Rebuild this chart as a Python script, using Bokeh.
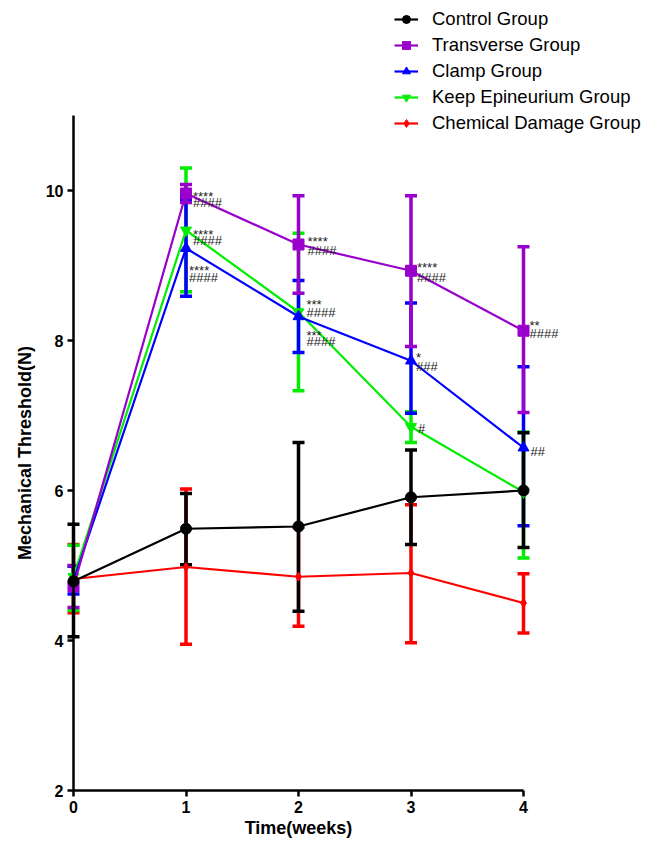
from bokeh.plotting import figure
from bokeh.models import (Range1d, LinearAxis, Whisker, TeeHead, ColumnDataSource,
                          Legend, LegendItem, FixedTicker)
from bokeh.core.properties import value
from bokeh.embed import file_html
from bokeh.resources import INLINE

# ---------------- data ----------------
weeks = [0, 1, 2, 3, 4]
x_ticks = [0, 1, 2, 3, 4]
y_ticks = [2, 4, 6, 8, 10]

group_names = ["Control Group", "Transverse Group", "Clamp Group",
               "Keep Epineurium Group", "Chemical Damage Group"]

control = [4.79, 5.49, 5.52, 5.91, 6.00]
control_lo = [4.05, 5.01, 4.39, 5.28, 5.24]
control_hi = [5.55, 5.96, 6.64, 6.54, 6.77]

transverse = [4.72, 9.96, 9.28, 8.93, 8.13]
transverse_lo = [4.44, 9.84, 8.63, 7.92, 7.04]
transverse_hi = [5.00, 10.08, 9.93, 9.93, 9.25]

clamp = [4.80, 9.23, 8.32, 7.73, 6.57]
clamp_lo = [4.62, 8.59, 7.84, 7.03, 5.53]
clamp_hi = [4.99, 9.87, 8.80, 8.50, 7.65]

keep = [4.85, 9.47, 8.38, 6.85, 5.98]
keep_lo = [4.40, 8.65, 7.33, 6.64, 5.10]
keep_hi = [5.27, 10.30, 9.43, 7.05, 6.78]

chemical = [4.82, 4.98, 4.85, 4.90, 4.50]
chemical_lo = [4.37, 3.95, 4.19, 3.97, 4.10]
chemical_hi = [5.28, 6.02, 5.51, 5.81, 4.89]

# significance marks: week, group index, stars, hashes
sig_week = [1, 1, 1, 2, 2, 2, 3, 3, 3, 4, 4]
sig_group = [1, 3, 2, 1, 2, 3, 1, 2, 3, 1, 2]
sig_stars = ["****", "****", "****", "****", "***", "***", "****", "*", "", "**", ""]
sig_hash = ["####", "####", "####", "####", "####", "####", "####", "###", "#", "####", "##"]

# ---------------- layout / style ----------------
series = [control, transverse, clamp, keep, chemical]
series_lo = [control_lo, transverse_lo, clamp_lo, keep_lo, chemical_lo]
series_hi = [control_hi, transverse_hi, clamp_hi, keep_hi, chemical_hi]
colors = ["#000000", "#9900cc", "#0000ff", "#00ee00", "#ff0000"]
markers = ["circle", "square", "triangle", "inverted_triangle", "diamond"]
msizes = [11, 11, 11, 11, 9]

# screen offsets (px) for the significance labels
sig_dx = [7, 7, 3, 9, 8, 8, 6, 5, 7, 6, 7]
sig_dy_star = [3, 4, 22, -3, -12, 23, -3, -3, 0, -5, 0]
sig_dy_hash = [9, 10, 29, 6, -4, 29, 7, 6, 2, 3, 4]

FONT = "Liberation Sans"
W, H = 653, 843
# pixel geometry of the data area inside the canvas
PX0, PX_PER_WEEK = 73, 112.5      # x=0 at 73 px
PY2, PY_PER_N = 790, 75.0         # y=2 at 790 px

p = figure(width=W, height=H, output_backend="svg", toolbar_location=None,
           x_range=Range1d(-PX0 / PX_PER_WEEK, (W - PX0) / PX_PER_WEEK),
           y_range=Range1d(2 - (H - PY2) / PY_PER_N, 2 + PY2 / PY_PER_N),
           x_axis_type=None, y_axis_type=None,
           min_border_left=0, min_border_right=0, min_border_top=0,
           min_border_bottom=0)
p.outline_line_color = None
p.background_fill_color = "white"
p.border_fill_color = "white"

xaxis = LinearAxis(ticker=FixedTicker(ticks=x_ticks), bounds=(0, 4),
                   fixed_location=2, axis_label="Time(weeks)")
yaxis = LinearAxis(ticker=FixedTicker(ticks=y_ticks), bounds=(2, 11),
                   fixed_location=0, axis_label="Mechanical Threshold(N)")
for ax in (xaxis, yaxis):
    ax.axis_line_width = 2.5
    ax.axis_line_color = "black"
    ax.major_tick_line_width = 2.5
    ax.major_tick_out = 6
    ax.major_tick_in = 0
    ax.minor_tick_line_color = None
    ax.major_label_text_font = FONT
    ax.major_label_text_font_style = "bold"
    ax.major_label_text_font_size = "16px"
    ax.major_label_text_color = "black"
    ax.axis_label_text_font = FONT
    ax.axis_label_text_font_style = "bold"
    ax.axis_label_text_color = "black"
    ax.axis_label_text_font_size = "18px"
xaxis.major_label_standoff = 4
xaxis.axis_label_standoff = 2
yaxis.major_label_standoff = 4
yaxis.axis_label_standoff = 8
p.add_layout(xaxis, "below")
p.add_layout(yaxis, "left")

# error bars (drawn below lines & markers)
order = [4, 3, 2, 1, 0]
for i in order:
    src = ColumnDataSource(dict(x=weeks, lo=series_lo[i], hi=series_hi[i]))
    c = colors[i]
    w = Whisker(source=src, base="x", lower="lo", upper="hi",
                line_color=c, line_width=3.5,
                upper_head=TeeHead(size=12, line_color=c, line_width=3.5),
                lower_head=TeeHead(size=12, line_color=c, line_width=3.5))
    p.add_layout(w)

items = {}
for i in order:
    src = ColumnDataSource(dict(x=weeks, y=series[i]))
    c = colors[i]
    ln = p.line("x", "y", source=src, line_color=c, line_width=2.2)
    sc = p.scatter("x", "y", source=src, marker=markers[i], size=msizes[i],
                   fill_color=c, line_color=c)
    items[i] = LegendItem(label=group_names[i], renderers=[ln, sc])

# significance labels
sig_y = [series[g][w] for g, w in zip(sig_group, sig_week)]
ssrc = ColumnDataSource(dict(x=sig_week, y=sig_y, s=sig_stars, h=sig_hash,
                             dx=sig_dx, dys=sig_dy_star, dyh=sig_dy_hash))
p.text("x", "y", text="s", source=ssrc, x_offset="dx", y_offset="dys",
       text_font=value(FONT), text_font_size="13px", text_color="#222222",
       text_align="left", text_baseline="middle")
p.text("x", "y", text="h", source=ssrc, x_offset="dx", y_offset="dyh",
       text_font=value(FONT), text_font_size="13px", text_color="#222222",
       text_align="left", text_baseline="middle")

# legend: bottom-left corner in canvas px measured from the bottom-left
legend = Legend(items=[items[i] for i in range(5)], location=(394, H - 134))
legend.border_line_color = None
legend.background_fill_alpha = 0
legend.padding = 0
legend.margin = 0
legend.spacing = 4
legend.glyph_width = 24
legend.glyph_height = 20
legend.label_height = 20
legend.label_standoff = 14
legend.label_text_font = FONT
legend.label_text_font_size = "18.5px"
legend.label_text_color = "black"
p.add_layout(legend)

open("out.html", "w").write(file_html(p, INLINE))
